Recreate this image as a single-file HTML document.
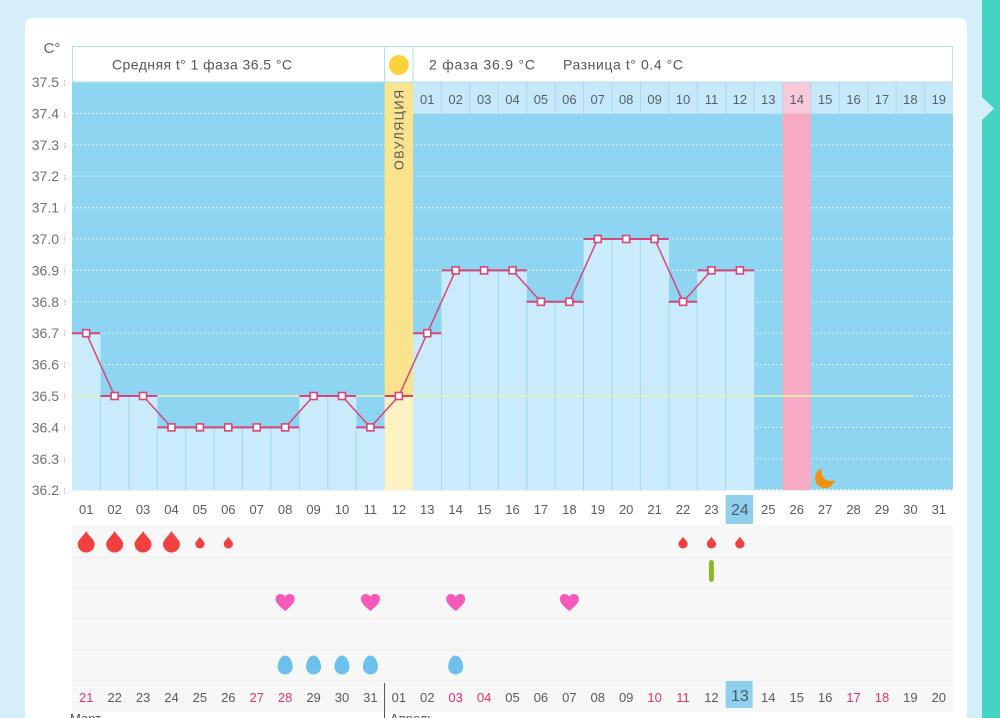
<!DOCTYPE html>
<html><head><meta charset="utf-8"><style>
html,body{margin:0;padding:0;background:#d4eff9;width:1000px;height:718px;overflow:hidden}
svg{display:block}
text{font-family:"Liberation Sans","DejaVu Sans",sans-serif}
</style></head><body>
<svg width="1000" height="718" viewBox="0 0 1000 718" xmlns="http://www.w3.org/2000/svg">
<rect x="0" y="0" width="1000" height="718" fill="#d4eff9"/>
<rect x="982" y="0" width="18" height="718" fill="#44d4c1"/>
<polygon points="982,97 994,108.5 982,120" fill="#d4eff9"/>
<rect x="25" y="18" width="942" height="720" rx="7" fill="#ffffff"/>

<!-- y axis -->
<g font-size="14" fill="#707070" text-anchor="end">
<text x="52" y="53" font-size="15" text-anchor="middle" fill="#666">C°</text>
<text x="59" y="87">37.5</text>
<text x="59" y="118.4">37.4</text>
<text x="59" y="149.8">37.3</text>
<text x="59" y="181.2">37.2</text>
<text x="59" y="212.6">37.1</text>
<text x="59" y="244">37.0</text>
<text x="59" y="275.4">36.9</text>
<text x="59" y="306.8">36.8</text>
<text x="59" y="338.2">36.7</text>
<text x="59" y="369.6">36.6</text>
<text x="59" y="401">36.5</text>
<text x="59" y="432.4">36.4</text>
<text x="59" y="463.8">36.3</text>
<text x="59" y="495.2">36.2</text>
</g>
<g stroke="#bbb" stroke-width="1" stroke-dasharray="1 1">
<line x1="64.5" y1="80" x2="64.5" y2="86"/><line x1="64.5" y1="112" x2="64.5" y2="118"/>
<line x1="64.5" y1="143" x2="64.5" y2="149"/><line x1="64.5" y1="175" x2="64.5" y2="181"/>
<line x1="64.5" y1="206" x2="64.5" y2="212"/><line x1="64.5" y1="237" x2="64.5" y2="243"/>
<line x1="64.5" y1="269" x2="64.5" y2="275"/><line x1="64.5" y1="300" x2="64.5" y2="306"/>
<line x1="64.5" y1="331" x2="64.5" y2="337"/><line x1="64.5" y1="363" x2="64.5" y2="369"/>
<line x1="64.5" y1="394" x2="64.5" y2="400"/><line x1="64.5" y1="425" x2="64.5" y2="431"/>
<line x1="64.5" y1="457" x2="64.5" y2="463"/><line x1="64.5" y1="488" x2="64.5" y2="494"/>
</g>

<!-- plot background -->
<rect x="72" y="82" width="881" height="408.2" fill="#8dd5f1"/>
<g stroke="#d2f0fb" stroke-width="1.2" stroke-dasharray="2 2">
<line x1="72" y1="113.4" x2="953" y2="113.4"/>
<line x1="72" y1="144.8" x2="953" y2="144.8"/>
<line x1="72" y1="176.2" x2="953" y2="176.2"/>
<line x1="72" y1="207.6" x2="953" y2="207.6"/>
<line x1="72" y1="239" x2="953" y2="239"/>
<line x1="72" y1="270.4" x2="953" y2="270.4"/>
<line x1="72" y1="301.8" x2="953" y2="301.8"/>
<line x1="72" y1="333.2" x2="953" y2="333.2"/>
<line x1="72" y1="364.6" x2="953" y2="364.6"/>
<line x1="72" y1="396" x2="953" y2="396"/>
<line x1="72" y1="427.4" x2="953" y2="427.4"/>
<line x1="72" y1="458.8" x2="953" y2="458.8"/>
<line x1="72" y1="489.5" x2="953" y2="489.5"/>
</g>

<!-- ovulation & pink columns -->
<rect x="384.62" y="82" width="28.42" height="314" fill="#f9e38d"/>
<rect x="384.62" y="396" width="28.42" height="94.2" fill="#fcf1c2"/>
<rect x="782.5" y="113.4" width="28.42" height="376.8" fill="#f7aac4"/>

<!-- bars -->
<g fill="#c9ebfa">
<rect x="72" y="333.2" width="28.6" height="157"/>
<rect x="100.42" y="396" width="28.6" height="94.2"/>
<rect x="128.84" y="396" width="28.6" height="94.2"/>
<rect x="157.26" y="427.4" width="28.6" height="62.8"/>
<rect x="185.68" y="427.4" width="28.6" height="62.8"/>
<rect x="214.10" y="427.4" width="28.6" height="62.8"/>
<rect x="242.52" y="427.4" width="28.6" height="62.8"/>
<rect x="270.94" y="427.4" width="28.6" height="62.8"/>
<rect x="299.36" y="396" width="28.6" height="94.2"/>
<rect x="327.78" y="396" width="28.6" height="94.2"/>
<rect x="356.20" y="427.4" width="28.42" height="62.8"/>
<rect x="413.04" y="333.2" width="28.6" height="157"/>
<rect x="441.46" y="270.4" width="28.6" height="219.8"/>
<rect x="469.88" y="270.4" width="28.6" height="219.8"/>
<rect x="498.30" y="270.4" width="28.6" height="219.8"/>
<rect x="526.72" y="301.8" width="28.6" height="188.4"/>
<rect x="555.14" y="301.8" width="28.6" height="188.4"/>
<rect x="583.56" y="239" width="28.6" height="251.2"/>
<rect x="611.98" y="239" width="28.6" height="251.2"/>
<rect x="640.40" y="239" width="28.6" height="251.2"/>
<rect x="668.82" y="301.8" width="28.6" height="188.4"/>
<rect x="697.24" y="270.4" width="28.6" height="219.8"/>
<rect x="725.66" y="270.4" width="28.42" height="219.8"/>
</g>
<g stroke="#a2d6ee" stroke-width="1">
<line x1="100.42" y1="396" x2="100.42" y2="490"/>
<line x1="128.84" y1="396" x2="128.84" y2="490"/>
<line x1="157.26" y1="427.4" x2="157.26" y2="490"/>
<line x1="185.68" y1="427.4" x2="185.68" y2="490"/>
<line x1="214.10" y1="427.4" x2="214.10" y2="490"/>
<line x1="242.52" y1="427.4" x2="242.52" y2="490"/>
<line x1="270.94" y1="427.4" x2="270.94" y2="490"/>
<line x1="299.36" y1="427.4" x2="299.36" y2="490"/>
<line x1="327.78" y1="396" x2="327.78" y2="490"/>
<line x1="356.20" y1="427.4" x2="356.20" y2="490"/>
<line x1="441.46" y1="333.2" x2="441.46" y2="490"/>
<line x1="469.88" y1="270.4" x2="469.88" y2="490"/>
<line x1="498.30" y1="270.4" x2="498.30" y2="490"/>
<line x1="526.72" y1="301.8" x2="526.72" y2="490"/>
<line x1="555.14" y1="301.8" x2="555.14" y2="490"/>
<line x1="583.56" y1="301.8" x2="583.56" y2="490"/>
<line x1="611.98" y1="239" x2="611.98" y2="490"/>
<line x1="640.40" y1="239" x2="640.40" y2="490"/>
<line x1="668.82" y1="301.8" x2="668.82" y2="490"/>
<line x1="697.24" y1="301.8" x2="697.24" y2="490"/>
<line x1="725.66" y1="270.4" x2="725.66" y2="490"/>
</g>

<!-- average line -->
<line x1="72" y1="396" x2="913" y2="396" stroke="#e3f5a6" stroke-width="1.6"/>

<!-- phase 2 number row -->
<rect x="413.04" y="82" width="540" height="31.4" fill="#c6e9f9"/>
<rect x="782.5" y="82" width="28.42" height="31.4" fill="#f8c9d9"/>
<g stroke="#a8d9ef" stroke-width="1">
<line x1="441.46" y1="82" x2="441.46" y2="113.4"/><line x1="469.88" y1="82" x2="469.88" y2="113.4"/>
<line x1="498.30" y1="82" x2="498.30" y2="113.4"/><line x1="526.72" y1="82" x2="526.72" y2="113.4"/>
<line x1="555.14" y1="82" x2="555.14" y2="113.4"/><line x1="583.56" y1="82" x2="583.56" y2="113.4"/>
<line x1="611.98" y1="82" x2="611.98" y2="113.4"/><line x1="640.40" y1="82" x2="640.40" y2="113.4"/>
<line x1="668.82" y1="82" x2="668.82" y2="113.4"/><line x1="697.24" y1="82" x2="697.24" y2="113.4"/>
<line x1="725.66" y1="82" x2="725.66" y2="113.4"/><line x1="754.08" y1="82" x2="754.08" y2="113.4"/>
<line x1="782.50" y1="82" x2="782.50" y2="113.4"/><line x1="810.92" y1="82" x2="810.92" y2="113.4"/>
<line x1="839.34" y1="82" x2="839.34" y2="113.4"/><line x1="867.76" y1="82" x2="867.76" y2="113.4"/>
<line x1="896.18" y1="82" x2="896.18" y2="113.4"/><line x1="924.60" y1="82" x2="924.60" y2="113.4"/>
</g>
<g font-size="13" fill="#56606c" text-anchor="middle">
<text x="427.25" y="104">01</text><text x="455.67" y="104">02</text><text x="484.09" y="104">03</text>
<text x="512.51" y="104">04</text><text x="540.93" y="104">05</text><text x="569.35" y="104">06</text>
<text x="597.77" y="104">07</text><text x="626.19" y="104">08</text><text x="654.61" y="104">09</text>
<text x="683.03" y="104">10</text><text x="711.45" y="104">11</text><text x="739.87" y="104">12</text>
<text x="768.29" y="104">13</text><text x="796.71" y="104">14</text><text x="825.13" y="104">15</text>
<text x="853.55" y="104">16</text><text x="881.97" y="104">17</text><text x="910.39" y="104">18</text>
<text x="938.81" y="104">19</text>
</g>

<!-- header -->
<rect x="72.5" y="46.5" width="312" height="35.5" fill="#fff" stroke="#b3e0f2"/>
<rect x="384.62" y="46.5" width="28.42" height="35.5" fill="#fff" stroke="#b3e0f2"/>
<rect x="413.04" y="46.5" width="539.5" height="35.5" fill="#fff" stroke="#b3e0f2"/>
<circle cx="398.83" cy="65" r="10" fill="#fbd23c"/>
<text x="112" y="69.5" font-size="14" fill="#555" textLength="180" lengthAdjust="spacing">Средняя t° 1 фаза 36.5 °C</text>
<text x="429" y="69.5" font-size="14" fill="#555" textLength="106" lengthAdjust="spacing">2 фаза 36.9 °C</text>
<text x="563" y="69.5" font-size="14" fill="#555" textLength="120" lengthAdjust="spacing">Разница t° 0.4 °C</text>
<text transform="translate(403.5,130) rotate(-90)" font-size="12.5" fill="#555" text-anchor="middle" textLength="80" lengthAdjust="spacing">ОВУЛЯЦИЯ</text>

<!-- temperature line -->
<path d="M72,333.2h28.42M100.42,396h56.84M157.26,427.4h142.1M299.36,396h56.84M356.2,427.4h28.42M384.62,396h28.42M413.04,333.2h28.42M441.46,270.4h85.26M526.72,301.8h56.84M583.56,239h85.26M668.82,301.8h28.42M697.24,270.4h56.84" stroke="#d6467b" stroke-width="2" fill="none"/>
<polyline points="86.21,333.2 114.63,396 143.05,396 171.47,427.4 199.89,427.4 228.31,427.4 256.73,427.4 285.15,427.4 313.57,396 341.99,396 370.41,427.4 398.83,396 427.25,333.2 455.67,270.4 484.09,270.4 512.51,270.4 540.93,301.8 569.35,301.8 597.77,239 626.19,239 654.61,239 683.03,301.8 711.45,270.4 739.87,270.4" fill="none" stroke="#d6467b" stroke-width="1.5"/>
<g fill="#fff" stroke="#d6467b" stroke-width="1.6">
<rect x="82.71" y="329.7" width="7" height="7"/><rect x="111.13" y="392.5" width="7" height="7"/>
<rect x="139.55" y="392.5" width="7" height="7"/><rect x="167.97" y="423.9" width="7" height="7"/>
<rect x="196.39" y="423.9" width="7" height="7"/><rect x="224.81" y="423.9" width="7" height="7"/>
<rect x="253.23" y="423.9" width="7" height="7"/><rect x="281.65" y="423.9" width="7" height="7"/>
<rect x="310.07" y="392.5" width="7" height="7"/><rect x="338.49" y="392.5" width="7" height="7"/>
<rect x="366.91" y="423.9" width="7" height="7"/><rect x="395.33" y="392.5" width="7" height="7"/>
<rect x="423.75" y="329.7" width="7" height="7"/><rect x="452.17" y="266.9" width="7" height="7"/>
<rect x="480.59" y="266.9" width="7" height="7"/><rect x="509.01" y="266.9" width="7" height="7"/>
<rect x="537.43" y="298.3" width="7" height="7"/><rect x="565.85" y="298.3" width="7" height="7"/>
<rect x="594.27" y="235.5" width="7" height="7"/><rect x="622.69" y="235.5" width="7" height="7"/>
<rect x="651.11" y="235.5" width="7" height="7"/><rect x="679.53" y="298.3" width="7" height="7"/>
<rect x="707.95" y="266.9" width="7" height="7"/><rect x="736.37" y="266.9" width="7" height="7"/>
</g>

<!-- moon -->
<circle cx="825" cy="478" r="10" fill="#f0920e"/>
<circle cx="830.5" cy="472" r="9" fill="#8dd5f1"/>

<!-- x labels row -->
<rect x="725.66" y="495" width="27.5" height="29" fill="#8fd0ee"/>
<g font-size="13" fill="#5a5a5a" text-anchor="middle">
<text x="86.21" y="514">01</text><text x="114.63" y="514">02</text><text x="143.05" y="514">03</text>
<text x="171.47" y="514">04</text><text x="199.89" y="514">05</text><text x="228.31" y="514">06</text>
<text x="256.73" y="514">07</text><text x="285.15" y="514">08</text><text x="313.57" y="514">09</text>
<text x="341.99" y="514">10</text><text x="370.41" y="514">11</text><text x="398.83" y="514">12</text>
<text x="427.25" y="514">13</text><text x="455.67" y="514">14</text><text x="484.09" y="514">15</text>
<text x="512.51" y="514">16</text><text x="540.93" y="514">17</text><text x="569.35" y="514">18</text>
<text x="597.77" y="514">19</text><text x="626.19" y="514">20</text><text x="654.61" y="514">21</text>
<text x="683.03" y="514">22</text><text x="711.45" y="514">23</text>
<text x="739.87" y="515" font-size="16" fill="#4c5a68">24</text>
<text x="768.29" y="514">25</text><text x="796.71" y="514">26</text><text x="825.13" y="514">27</text>
<text x="853.55" y="514">28</text><text x="881.97" y="514">29</text><text x="910.39" y="514">30</text>
<text x="938.81" y="514">31</text>
</g>

<!-- icon rows -->
<rect x="72" y="525" width="881" height="187" fill="#f7f7f7"/>
<g stroke="#eeeeee" stroke-width="1">
<line x1="72" y1="557" x2="953" y2="557"/><line x1="72" y1="588" x2="953" y2="588"/>
<line x1="72" y1="619" x2="953" y2="619"/><line x1="72" y1="650" x2="953" y2="650"/>
<line x1="72" y1="681" x2="953" y2="681"/>
</g>
<rect x="725.66" y="681" width="27" height="27" fill="#8fd0ee"/>

<g fill="#f0403f">
<path transform="translate(86.21,542.5)" d="M0,-11.5C2,-7 8.5,-3 8.5,1.5A8.5,8.5 0 0 1 -8.5,1.5C-8.5,-3 -2,-7 0,-11.5Z"/>
<path transform="translate(114.63,542.5)" d="M0,-11.5C2,-7 8.5,-3 8.5,1.5A8.5,8.5 0 0 1 -8.5,1.5C-8.5,-3 -2,-7 0,-11.5Z"/>
<path transform="translate(143.05,542.5)" d="M0,-11.5C2,-7 8.5,-3 8.5,1.5A8.5,8.5 0 0 1 -8.5,1.5C-8.5,-3 -2,-7 0,-11.5Z"/>
<path transform="translate(171.47,542.5)" d="M0,-11.5C2,-7 8.5,-3 8.5,1.5A8.5,8.5 0 0 1 -8.5,1.5C-8.5,-3 -2,-7 0,-11.5Z"/>
<path transform="translate(199.89,543) scale(0.55)" d="M0,-11.5C2,-7 8.5,-3 8.5,1.5A8.5,8.5 0 0 1 -8.5,1.5C-8.5,-3 -2,-7 0,-11.5Z"/>
<path transform="translate(228.31,543) scale(0.55)" d="M0,-11.5C2,-7 8.5,-3 8.5,1.5A8.5,8.5 0 0 1 -8.5,1.5C-8.5,-3 -2,-7 0,-11.5Z"/>
<path transform="translate(683.03,543) scale(0.55)" d="M0,-11.5C2,-7 8.5,-3 8.5,1.5A8.5,8.5 0 0 1 -8.5,1.5C-8.5,-3 -2,-7 0,-11.5Z"/>
<path transform="translate(711.45,543) scale(0.55)" d="M0,-11.5C2,-7 8.5,-3 8.5,1.5A8.5,8.5 0 0 1 -8.5,1.5C-8.5,-3 -2,-7 0,-11.5Z"/>
<path transform="translate(739.87,543) scale(0.55)" d="M0,-11.5C2,-7 8.5,-3 8.5,1.5A8.5,8.5 0 0 1 -8.5,1.5C-8.5,-3 -2,-7 0,-11.5Z"/>
</g>
<rect x="708.9" y="560" width="5" height="22" rx="2.5" fill="#8db824"/>
<g fill="#f65ab8">
<path transform="translate(285.15,603)" d="M0,8C-5,4 -9.5,0 -9.5,-4C-9.5,-7.5 -7,-9 -4.8,-9C-2.6,-9 -0.8,-7.8 0,-6.2C0.8,-7.8 2.6,-9 4.8,-9C7,-9 9.5,-7.5 9.5,-4C9.5,0 5,4 0,8Z"/>
<path transform="translate(370.41,603)" d="M0,8C-5,4 -9.5,0 -9.5,-4C-9.5,-7.5 -7,-9 -4.8,-9C-2.6,-9 -0.8,-7.8 0,-6.2C0.8,-7.8 2.6,-9 4.8,-9C7,-9 9.5,-7.5 9.5,-4C9.5,0 5,4 0,8Z"/>
<path transform="translate(455.67,603)" d="M0,8C-5,4 -9.5,0 -9.5,-4C-9.5,-7.5 -7,-9 -4.8,-9C-2.6,-9 -0.8,-7.8 0,-6.2C0.8,-7.8 2.6,-9 4.8,-9C7,-9 9.5,-7.5 9.5,-4C9.5,0 5,4 0,8Z"/>
<path transform="translate(569.35,603)" d="M0,8C-5,4 -9.5,0 -9.5,-4C-9.5,-7.5 -7,-9 -4.8,-9C-2.6,-9 -0.8,-7.8 0,-6.2C0.8,-7.8 2.6,-9 4.8,-9C7,-9 9.5,-7.5 9.5,-4C9.5,0 5,4 0,8Z"/>
</g>
<g fill="#6dbfec">
<path transform="translate(285.15,665)" d="M0,-9.5C4.5,-9.5 7.5,-3 7.5,2A7.5,7.5 0 0 1 -7.5,2C-7.5,-3 -4.5,-9.5 0,-9.5Z"/>
<path transform="translate(313.57,665)" d="M0,-9.5C4.5,-9.5 7.5,-3 7.5,2A7.5,7.5 0 0 1 -7.5,2C-7.5,-3 -4.5,-9.5 0,-9.5Z"/>
<path transform="translate(341.99,665)" d="M0,-9.5C4.5,-9.5 7.5,-3 7.5,2A7.5,7.5 0 0 1 -7.5,2C-7.5,-3 -4.5,-9.5 0,-9.5Z"/>
<path transform="translate(370.41,665)" d="M0,-9.5C4.5,-9.5 7.5,-3 7.5,2A7.5,7.5 0 0 1 -7.5,2C-7.5,-3 -4.5,-9.5 0,-9.5Z"/>
<path transform="translate(455.67,665)" d="M0,-9.5C4.5,-9.5 7.5,-3 7.5,2A7.5,7.5 0 0 1 -7.5,2C-7.5,-3 -4.5,-9.5 0,-9.5Z"/>
</g>

<!-- date row -->
<g font-size="13" fill="#5a5a5a" text-anchor="middle">
<text x="86.21" y="702" fill="#e0356c">21</text><text x="114.63" y="702">22</text><text x="143.05" y="702">23</text>
<text x="171.47" y="702">24</text><text x="199.89" y="702">25</text><text x="228.31" y="702">26</text>
<text x="256.73" y="702" fill="#e0356c">27</text><text x="285.15" y="702" fill="#e0356c">28</text><text x="313.57" y="702">29</text>
<text x="341.99" y="702">30</text><text x="370.41" y="702">31</text><text x="398.83" y="702">01</text>
<text x="427.25" y="702">02</text><text x="455.67" y="702" fill="#e0356c">03</text><text x="484.09" y="702" fill="#e0356c">04</text>
<text x="512.51" y="702">05</text><text x="540.93" y="702">06</text><text x="569.35" y="702">07</text>
<text x="597.77" y="702">08</text><text x="626.19" y="702">09</text><text x="654.61" y="702" fill="#e0356c">10</text>
<text x="683.03" y="702" fill="#e0356c">11</text><text x="711.45" y="702">12</text>
<text x="739.87" y="701" font-size="16" fill="#4c5a68">13</text>
<text x="768.29" y="702">14</text><text x="796.71" y="702">15</text><text x="825.13" y="702">16</text>
<text x="853.55" y="702" fill="#e0356c">17</text><text x="881.97" y="702" fill="#e0356c">18</text><text x="910.39" y="702">19</text>
<text x="938.81" y="702">20</text>
</g>
<line x1="384.5" y1="683" x2="384.5" y2="718" stroke="#555" stroke-width="1"/>
<text x="70" y="723" font-size="13" fill="#555">Март</text>
<text x="390" y="723" font-size="13" fill="#555">Апрель</text>
</svg>
</body></html>
